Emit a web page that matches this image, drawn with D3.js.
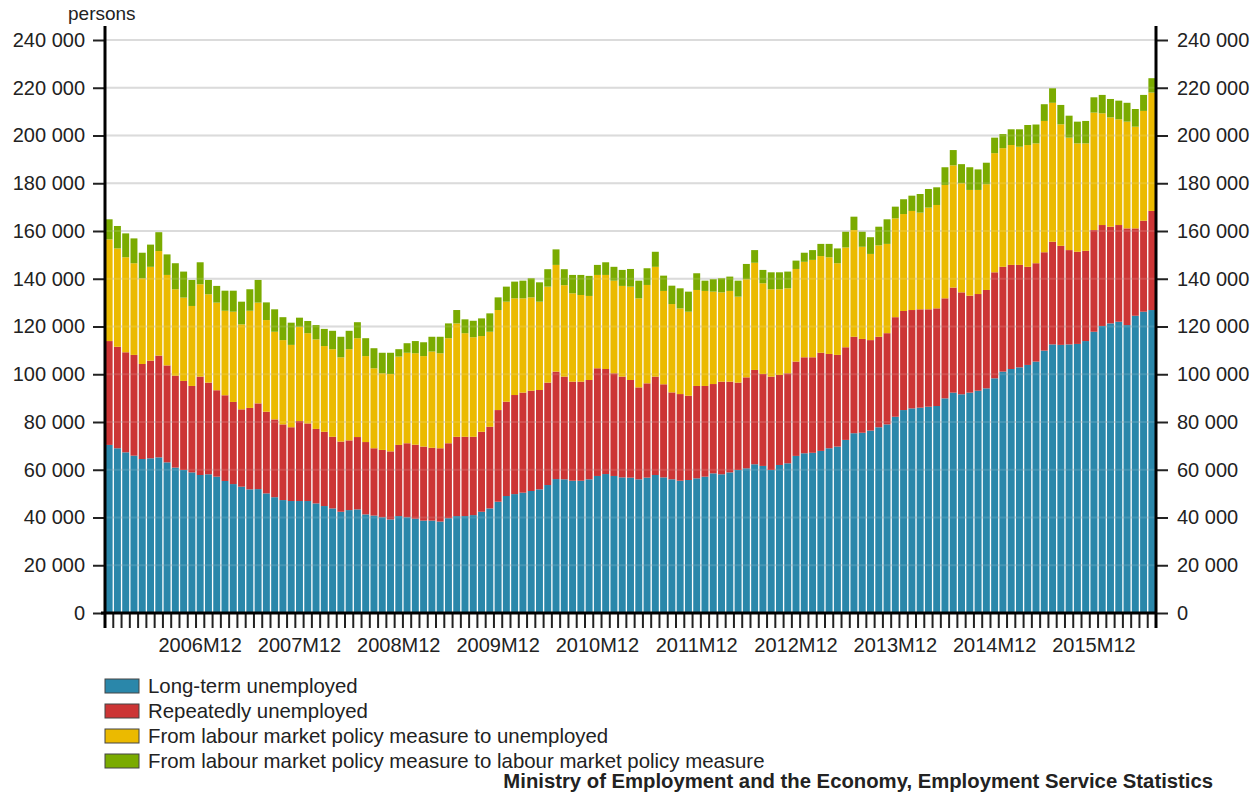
<!DOCTYPE html>
<html>
<head>
<meta charset="utf-8">
<script src="https://cdn.jsdelivr.net/npm/d3@7"></script>
<style>
    body { margin: 0; background: #fff; }
    svg { display: block; font-family: "Liberation Sans", Arial, sans-serif; }
</style>
</head>
<body>
<div id="chart"></div>
<script>
// Monthly categories 2006M01 .. 2016M07
const months = [];
for (let yr = 2006; yr <= 2016; yr++) {
    for (let m = 1; m <= 12; m++) {
        if (yr === 2016 && m > 7) break;
        months.push(`${yr}M${String(m).padStart(2, "0")}`);
    }
}

const xTickLabels = ["2006M12", "2007M12", "2008M12", "2009M12", "2010M12",
    "2011M12", "2012M12", "2013M12", "2014M12", "2015M12"];
const yTicks = [0, 20000, 40000, 60000, 80000, 100000, 120000, 140000, 160000, 180000, 200000, 220000, 240000];

const seriesNames = [
    "Long-term unemployed",
    "Repeatedly unemployed",
    "From labour market policy measure to unemployed",
    "From labour market policy measure to labour market policy measure"
];
const seriesColors = ["#2a87aa", "#cc3535", "#ebba00", "#7aab00"];

const longTerm = [
    70400, 69000, 67300, 65900, 64500, 64800, 65200, 63100, 60900, 59900,
    58900, 57800, 58100, 57100, 55300, 54000, 52900, 51800, 51900, 50100,
    48500, 47300, 46900, 46900, 46900, 45900, 44800, 43800, 42400, 43100,
    43400, 41300, 40800, 40100, 39200, 40600, 40100, 39500, 38700, 38700,
    38300, 39700, 40600, 40600, 41000, 42400, 43800, 46600, 49000, 49800,
    50400, 51100, 51800, 53600, 56100, 56000, 55400, 55400, 56000, 57400,
    58200, 57400, 56800, 56700, 56000, 56700, 57800, 56800, 56000, 55400,
    55700, 56400, 57100, 58500, 58100, 58900, 59900, 60600, 62300, 61600,
    59900, 62000, 62700, 65800, 66900, 67100, 67900, 69000, 69700, 72500,
    75300, 75500, 76400, 77800, 79000, 82200, 85000, 85700, 86000, 86400,
    86700, 89900, 92300, 91600, 92300, 93100, 94100, 98300, 101100, 102200,
    102900, 103900, 105300, 109900, 112500, 112300, 112500, 112700, 113900, 117800,
    120200, 121300, 122000, 120600, 124500, 126200, 126900
];

const repeated = [
    43500, 42500, 41900, 42200, 39800, 40900, 42600, 40600, 38500, 37300,
    36200, 41200, 38400, 36200, 35900, 34400, 32400, 34100, 35900, 34200,
    32600, 31700, 30900, 33500, 32500, 31200, 31100, 30000, 29400, 29200,
    30300, 30300, 28200, 28200, 28500, 29800, 31000, 31000, 31000, 30500,
    30700, 31400, 33200, 33200, 32800, 33500, 34200, 38400, 39500, 41500,
    41900, 42000, 41600, 42900, 45000, 43000, 41500, 41500, 41600, 45100,
    44000, 43000, 42200, 40900, 38500, 39500, 41200, 39000, 36400, 36300,
    35300, 38700, 38000, 37400, 38800, 38000, 36600, 38100, 39500, 38500,
    39100, 37700, 37700, 39500, 40200, 40000, 41100, 39500, 38400, 38800,
    40400, 39300, 37900, 37900, 38200, 41700, 41500, 41200, 41200, 40800,
    40900, 41900, 44000, 42700, 40600, 40500, 41200, 44400, 43900, 43600,
    42900, 41100, 41200, 41200, 43000, 41500, 39500, 38600, 37800, 42600,
    42300, 40500, 40500, 40500, 36600, 38100, 41500
];

const policyToUnemployed = [
    42600, 41200, 39800, 38400, 35900, 39300, 43800, 37900, 36200, 34900,
    33500, 38700, 37000, 36700, 35400, 37800, 35600, 40700, 42200, 38400,
    36700, 35300, 34500, 39500, 37800, 37500, 35900, 36700, 35300, 38200,
    41400, 36000, 33500, 32100, 32400, 37000, 37900, 38300, 37900, 40300,
    39800, 44000, 47500, 43400, 41700, 40100, 39800, 41900, 41900, 40500,
    39500, 39100, 37000, 40200, 44700, 38300, 37000, 36300, 35200, 39100,
    39400, 38800, 38000, 39100, 37300, 41200, 46000, 39100, 37000, 35900,
    35200, 40200, 39800, 38700, 37400, 38000, 36000, 41100, 44900, 38000,
    36600, 35900, 35600, 38800, 40000, 40800, 40500, 40500, 38400, 41800,
    44700, 38600, 36100, 38300, 37400, 41400, 40600, 41500, 40500, 42600,
    43300, 47500, 51200, 45700, 44300, 43600, 44300, 49900, 49700, 50200,
    49500, 51000, 50200, 55000, 58200, 50900, 47100, 45400, 45000, 49200,
    46800, 45800, 44300, 44700, 42600, 46000, 49600
];

const policyToPolicy = [
    8400, 9400, 10000, 10400, 10700, 9300, 7900, 8600, 10900, 10900,
    10900, 9200, 6000, 7000, 8400, 8800, 9500, 9000, 9500, 7400,
    9400, 9600, 9300, 3800, 5100, 6000, 7200, 7700, 8600, 7700,
    6700, 7500, 8400, 8600, 8900, 3100, 4000, 5100, 5800, 6200,
    6900, 6200, 5600, 5800, 6900, 7400, 7700, 5300, 6300, 7000,
    7400, 8000, 8100, 7300, 6500, 6700, 7700, 8400, 8400, 4200,
    5300, 5800, 6700, 7400, 7400, 7000, 6300, 6400, 7700, 8400,
    8400, 7000, 4300, 5200, 5900, 6000, 6700, 6400, 5300, 5600,
    7100, 7100, 7000, 3500, 3800, 4100, 5100, 5600, 6200, 6600,
    5600, 6300, 7000, 7800, 10300, 4900, 6200, 6400, 7800, 7800,
    7400, 7400, 6400, 8000, 9500, 8600, 9000, 6500, 5900, 6600,
    7300, 8400, 7900, 7000, 6100, 8100, 9200, 9100, 9400, 6400,
    7700, 7700, 7800, 7900, 7400, 6700, 6000
];

class StackedBarChart {
    constructor(parentElement) {
        this.parentElement = parentElement;
        this.initGraph();
    }

    initGraph() {
        const vis = this;

        vis.width = 1253;
        vis.height = 794;
        vis.left = 105;
        vis.right = 1156;
        vis.top = 40;
        vis.bottom = 613;

        vis.svg = d3.select(`#${vis.parentElement}`)
            .append("svg")
            .attr("width", vis.width)
            .attr("height", vis.height);

        // Build table rows for the stack
        vis.keys = ["longTerm", "repeated", "toUnemployed", "toPolicy"];
        vis.rows = months.map((m, i) => ({
            month: m,
            longTerm: longTerm[i],
            repeated: repeated[i],
            toUnemployed: policyToUnemployed[i],
            toPolicy: policyToPolicy[i]
        }));
        vis.stacked = d3.stack().keys(vis.keys)(vis.rows);

        // Scales
        vis.x = d3.scaleBand()
            .domain(months)
            .range([vis.left, vis.right])
            .paddingInner(0.16)
            .paddingOuter(0.08);

        vis.y = d3.scaleLinear()
            .domain([0, 240000])
            .range([vis.bottom, vis.top]);

        vis.color = d3.scaleOrdinal().domain(vis.keys).range(seriesColors);

        const fmt = d => d3.format(",")(d).replace(/,/g, " ");

        // Gridlines behind the bars
        vis.svg.append("g")
            .selectAll("line")
            .data(yTicks.filter(d => d > 0))
            .join("line")
            .attr("x1", vis.left)
            .attr("x2", vis.right)
            .attr("y1", d => vis.y(d))
            .attr("y2", d => vis.y(d))
            .attr("stroke", "#d6d6d6")
            .attr("stroke-width", 2);

        // Bars
        vis.svg.append("g")
            .selectAll("g")
            .data(vis.stacked)
            .join("g")
            .attr("fill", d => vis.color(d.key))
            .selectAll("rect")
            .data(d => d)
            .join("rect")
            .attr("x", d => vis.x(d.data.month))
            .attr("width", vis.x.bandwidth())
            .attr("y", d => vis.y(d[1]))
            .attr("height", d => vis.y(d[0]) - vis.y(d[1]));

        // Faint gridlines over the bars
        vis.svg.append("g")
            .selectAll("line")
            .data(yTicks.filter(d => d > 0))
            .join("line")
            .attr("x1", vis.left)
            .attr("x2", vis.right)
            .attr("y1", d => vis.y(d))
            .attr("y2", d => vis.y(d))
            .attr("stroke", "#ffffff")
            .attr("stroke-opacity", 0.12)
            .attr("stroke-width", 2);

        // Left axis
        vis.svg.append("g")
            .attr("transform", `translate(${vis.left},0)`)
            .call(d3.axisLeft(vis.y).tickValues(yTicks).tickFormat(fmt).tickSize(12).tickPadding(8))
            .call(g => g.select(".domain").remove())
            .call(g => g.selectAll(".tick line").attr("stroke", "#222").attr("stroke-width", 2))
            .call(g => g.selectAll(".tick text").attr("fill", "#222").style("font-size", "20px"));

        // Right axis
        vis.svg.append("g")
            .attr("transform", `translate(${vis.right},0)`)
            .call(d3.axisRight(vis.y).tickValues(yTicks).tickFormat(fmt).tickSize(12).tickPadding(9))
            .call(g => g.select(".domain").remove())
            .call(g => g.selectAll(".tick line").attr("stroke", "#222").attr("stroke-width", 2))
            .call(g => g.selectAll(".tick text").attr("fill", "#222").style("font-size", "20px"));

        // Month ticks on the category boundaries
        const step = vis.x.step();
        const start = vis.x(months[0]) - vis.x.paddingOuter() * step;
        vis.svg.append("g")
            .selectAll("line")
            .data(d3.range(months.length + 1))
            .join("line")
            .attr("x1", i => start + i * (vis.right - start) / months.length)
            .attr("x2", i => start + i * (vis.right - start) / months.length)
            .attr("y1", vis.bottom)
            .attr("y2", vis.bottom + 15)
            .attr("stroke", "#222")
            .attr("stroke-width", 2);

        // Year labels
        vis.svg.append("g")
            .attr("transform", `translate(0,${vis.bottom})`)
            .call(d3.axisBottom(vis.x).tickValues(xTickLabels).tickSize(0).tickPadding(25))
            .call(g => g.select(".domain").remove())
            .call(g => g.selectAll(".tick text").attr("fill", "#222").style("font-size", "20px"));

        // Axis frame lines
        vis.svg.append("line")
            .attr("x1", vis.left - 4).attr("x2", vis.right + 1)
            .attr("y1", vis.bottom).attr("y2", vis.bottom)
            .attr("stroke", "#000").attr("stroke-width", 3);
        [vis.left, vis.right].forEach(xp => {
            vis.svg.append("line")
                .attr("x1", xp).attr("x2", xp)
                .attr("y1", 26).attr("y2", vis.bottom + 15)
                .attr("stroke", "#000").attr("stroke-width", 3);
        });

        // Unit label
        vis.svg.append("text")
            .attr("x", 68)
            .attr("y", 20)
            .attr("fill", "#222")
            .style("font-size", "19px")
            .text("persons");

        // Legend
        const legend = vis.svg.append("g")
            .selectAll("g")
            .data(seriesNames)
            .join("g")
            .attr("transform", (d, i) => `translate(105,${679 + i * 25})`);

        legend.append("rect")
            .attr("width", 34)
            .attr("height", 14)
            .attr("fill", (d, i) => seriesColors[i])
            .attr("stroke", "#444")
            .attr("stroke-width", 1);

        legend.append("text")
            .attr("x", 43)
            .attr("y", 7)
            .attr("dy", "0.36em")
            .attr("fill", "#222")
            .style("font-size", "20.4px")
            .text(d => d);

        // Source
        vis.svg.append("text")
            .attr("x", 1213)
            .attr("y", 788)
            .attr("text-anchor", "end")
            .attr("fill", "#222")
            .style("font-size", "20.3px")
            .style("font-weight", "bold")
            .text("Ministry of Employment and the Economy, Employment Service Statistics");
    }
}

new StackedBarChart("chart");
</script>
</body>
</html>
